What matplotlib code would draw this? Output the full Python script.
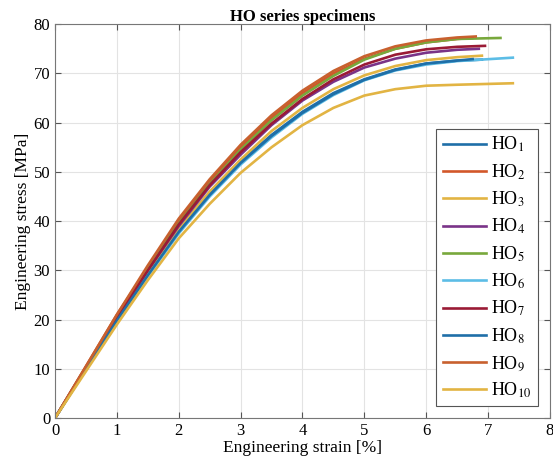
import matplotlib.pyplot as plt

plt.rcParams['font.family'] = ['Liberation Serif', 'DejaVu Serif']
plt.rcParams['mathtext.fontset'] = 'stix'

# strain grid [%] shared by all specimens, last point is the end of each test
strain = [0, 0.5, 1, 1.5, 2, 2.5, 3, 3.5, 4, 4.5, 5, 5.5, 6, 6.5]

labels = [r'HO$_{1}$', r'HO$_{2}$', r'HO$_{3}$', r'HO$_{4}$', r'HO$_{5}$',
          r'HO$_{6}$', r'HO$_{7}$', r'HO$_{8}$', r'HO$_{9}$', r'HO$_{10}$']

# stress [MPa] at the strain grid points
ho1 = [0, 10, 20, 29.3, 38, 45.5, 52, 57.5, 62.2, 66, 68.8, 70.8, 72, 72.6]
ho2 = [0, 10.5, 21, 30.5, 40, 48, 55, 61, 66, 70, 73, 75, 76.3, 77]
ho3 = [0, 10, 20, 29.5, 38.5, 46, 52.5, 58.3, 63, 66.8, 69.6, 71.5, 72.7, 73.3]
ho4 = [0, 10.2, 20.3, 30, 39, 47, 53.5, 59.5, 64.5, 68.3, 71.2, 73, 74.2, 74.8]
ho5 = [0, 10.3, 20.5, 30.5, 39.5, 47.5, 54.5, 60.5, 65.5, 69.5, 72.8, 75, 76.3, 77]
ho6 = [0, 9.8, 19.5, 28.8, 37.5, 45, 51.5, 57, 61.8, 65.6, 68.6, 70.6, 71.8, 72.5]
ho7 = [0, 10.3, 20.5, 30, 39.3, 47.3, 54, 59.8, 64.8, 68.8, 71.8, 73.8, 74.9, 75.4]
ho8 = [0, 10, 19.8, 29, 37.8, 45.3, 51.8, 57.3, 62, 65.8, 68.7, 70.7, 72, 72.6]
ho9 = [0, 10.5, 21, 31, 40.5, 48.5, 55.5, 61.5, 66.5, 70.5, 73.5, 75.5, 76.7, 77.3]
ho10 = [0, 9.5, 19, 28, 36.5, 43.5, 49.8, 55, 59.5, 63, 65.5, 66.8, 67.5, 67.7]

# end of test (strain, stress)
end_strain = [6.9, 6.75, 6.9, 6.85, 7.2, 7.4, 6.95, 6.75, 6.8, 7.4]
end_stress = [72.8, 77.2, 73.6, 75.0, 77.2, 73.2, 75.6, 72.9, 77.5, 68.0]

series = [ho1, ho2, ho3, ho4, ho5, ho6, ho7, ho8, ho9, ho10]

colors = ['#1f6fa8', '#d2572a', '#e2b443', '#7a3388', '#78a83c',
          '#5cbde6', '#9a1a35', '#1f6fa8', '#c8602e', '#e2b443']

fig = plt.figure(figsize=(5.53, 4.65), dpi=100)
ax = fig.add_axes([0.0995, 0.101, 0.895, 0.847])

for s, es, ey, c, lab in zip(series, end_strain, end_stress, colors, labels):
    x = [v for v in strain if v < es] + [es]
    y = s[:len(x) - 1] + [ey]
    ax.plot(x, y, color=c, lw=1.9, label=lab)

ax.set_xlim(0, 8)
ax.set_ylim(0, 80)
ax.set_xticks(range(0, 9))
ax.set_yticks(range(0, 81, 10))
ax.grid(True, color='#e3e3e3', lw=0.8)
ax.set_axisbelow(True)
ax.tick_params(direction='in', top=True, right=True, labelsize=12,
               color='#555555', length=4)
for sp in ax.spines.values():
    sp.set_color('#777777')

ax.set_xlabel('Engineering strain [%]', fontsize=12.5, labelpad=1)
ax.set_ylabel('Engineering stress [MPa]', fontsize=12.5, labelpad=2)
ax.set_title('HO series specimens', fontsize=12, fontweight='bold', pad=2)

leg = ax.legend(loc='lower right', fontsize=13, handlelength=2.4,
                labelspacing=0.44, borderaxespad=0.65, borderpad=0.35,
                fancybox=False, edgecolor='#555555', framealpha=1,
                handletextpad=0.3)
leg.get_frame().set_linewidth(0.8)

fig.savefig('out.png', dpi=100)
